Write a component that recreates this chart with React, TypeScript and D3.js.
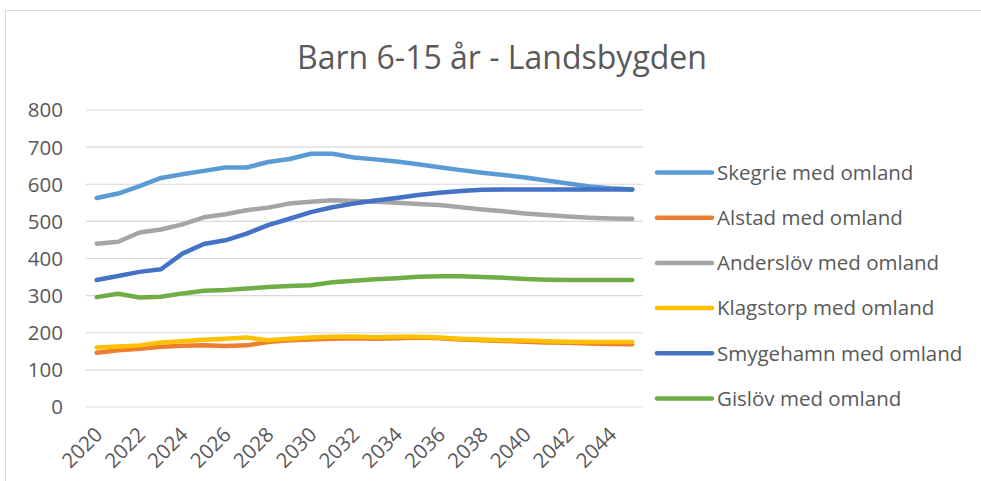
import React from "react";
import * as d3 from "d3";

const years: number[] = [
  2020, 2021, 2022, 2023, 2024, 2025, 2026, 2027, 2028, 2029, 2030, 2031, 2032,
  2033, 2034, 2035, 2036, 2037, 2038, 2039, 2040, 2041, 2042, 2043, 2044, 2045,
];
const tickYears: number[] = [2020, 2022, 2024, 2026, 2028, 2030, 2032, 2034, 2036, 2038, 2040, 2042, 2044];
const yTicks: number[] = [0, 100, 200, 300, 400, 500, 600, 700, 800];

const seriesNames: string[] = [
  "Skegrie med omland",
  "Alstad med omland",
  "Anderslöv med omland",
  "Klagstorp med omland",
  "Smygehamn med omland",
  "Gislöv med omland",
];
const seriesColors: string[] = ["#5B9BD5", "#ED7D31", "#A5A5A5", "#FFC000", "#4472C4", "#70AD47"];

const skegrie: number[] = [563, 575, 595, 617, 627, 636, 645, 645, 660, 668, 682, 682, 672, 667, 661, 654, 646, 638, 631, 625, 618, 610, 602, 594, 589, 586];
const alstad: number[] = [146, 153, 157, 162, 165, 166, 164, 166, 175, 180, 182, 184, 185, 184, 185, 187, 185, 182, 180, 178, 176, 174, 173, 171, 170, 169];
const anderslov: number[] = [440, 445, 470, 478, 492, 511, 519, 530, 537, 548, 553, 557, 555, 553, 550, 547, 544, 538, 532, 527, 521, 517, 513, 510, 508, 507];
const klagstorp: number[] = [160, 163, 166, 174, 177, 181, 184, 187, 180, 184, 187, 189, 190, 188, 189, 189, 187, 184, 182, 180, 179, 177, 176, 175, 175, 175];
const smygehamn: number[] = [342, 353, 364, 371, 413, 439, 449, 467, 490, 507, 525, 538, 548, 556, 563, 571, 577, 582, 585, 586, 586, 586, 586, 586, 586, 586];
const gislov: number[] = [296, 305, 295, 297, 306, 313, 315, 319, 323, 326, 328, 336, 340, 344, 347, 351, 352, 352, 350, 348, 345, 343, 342, 342, 342, 342];

const seriesValues: number[][] = [skegrie, alstad, anderslov, klagstorp, smygehamn, gislov];

const W = 981;
const H = 481;
const plotLeft = 86;
const plotRight = 643;
const plotTop = 110;
const plotBottom = 407;
const FONT = "'Open Sans', sans-serif";
const TEXT = "#595959";

export default function App() {
  const x = d3.scaleBand<number>().domain(years).range([plotLeft, plotRight]).paddingInner(0).paddingOuter(0);
  const cx = (yr: number) => (x(yr) as number) + x.bandwidth() / 2;
  const y = d3.scaleLinear().domain([0, 800]).range([plotBottom, plotTop]);
  const line = d3
    .line<number>()
    .x((_, i) => cx(years[i]))
    .y((v) => y(v))
    .curve(d3.curveLinear);

  const legendX = 657;
  const legendY0 = 172.5;
  const legendStep = 45.2;

  return (
    <svg width={W} height={H} style={{ position: "absolute", left: 0, top: 0, background: "#fff" }}>
      <rect x={0} y={0} width={W} height={H} fill="#fff" />
      <rect x={5.5} y={10.5} width={1100} height={600} fill="#fff" stroke="#D9D9D9" strokeWidth={1} />
      <text x={502} y={69} textAnchor="middle" fontFamily={FONT} fontSize={32} fill={TEXT}>
        Barn 6-15 år - Landsbygden
      </text>
      {yTicks.map((t) => (
        <g key={t}>
          <line x1={plotLeft} x2={plotRight} y1={y(t)} y2={y(t)} stroke="#D9D9D9" strokeWidth={1.2} />
          <text x={63} y={y(t)} dy="0.36em" textAnchor="end" fontFamily={FONT} fontSize={20.5} fill={TEXT}>
            {t}
          </text>
        </g>
      ))}
      {tickYears.map((yr) => (
        <text
          key={yr}
          transform={`translate(${cx(yr) + 7},${436}) rotate(-45)`}
          textAnchor="end"
          fontFamily={FONT}
          fontSize={20.5}
          fill={TEXT}
        >
          {yr}
        </text>
      ))}
      {seriesValues.map((vals, i) => (
        <path
          key={seriesNames[i]}
          d={line(vals) || ""}
          fill="none"
          stroke={seriesColors[i]}
          strokeWidth={4.5}
          strokeLinecap="round"
          strokeLinejoin="round"
        />
      ))}
      {seriesNames.map((name, i) => (
        <g key={name} transform={`translate(0,${legendY0 + i * legendStep})`}>
          <line x1={legendX} x2={legendX + 55} y1={0} y2={0} stroke={seriesColors[i]} strokeWidth={4.5} strokeLinecap="round" />
          <text x={717} y={0} dy="0.36em" fontFamily={FONT} fontSize={20.5} fill={TEXT}>
            {name}
          </text>
        </g>
      ))}
    </svg>
  );
}
